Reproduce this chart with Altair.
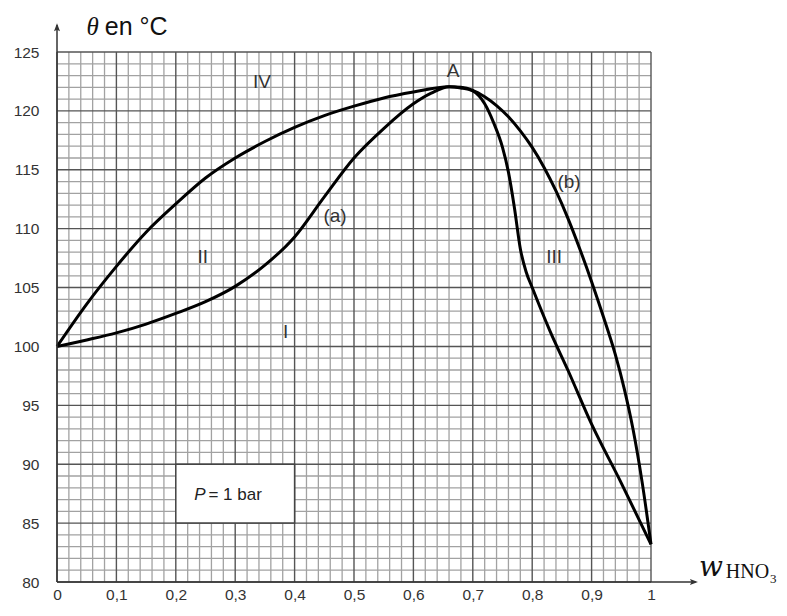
import altair as alt
import pandas as pd

# ---- data ----
# dew (vapour) curve: left branch, then branch (b)
dew_w = [0, 0.05, 0.1, 0.15, 0.2, 0.25, 0.3, 0.35, 0.4, 0.45, 0.5, 0.55, 0.6, 0.66,
         0.68, 0.70, 0.72, 0.74, 0.76, 0.78, 0.80, 0.82, 0.84, 0.86, 0.88, 0.90, 0.92,
         0.94, 0.955, 0.97, 0.985, 1.0]
dew_T = [100, 103.6, 106.8, 109.7, 112.1, 114.3, 116.0, 117.4, 118.6, 119.6, 120.4, 121.1, 121.6, 122.05,
         122.0, 121.75, 121.2, 120.45, 119.5, 118.3, 116.9, 115.2, 113.2, 110.9, 108.3, 105.5, 102.5,
         99.3, 96.4, 92.9, 88.5, 83.2]
# boiling (liquid) curve: branch (a), then the III side
liq_w = [0, 0.05, 0.1, 0.15, 0.2, 0.25, 0.3, 0.35, 0.4, 0.45, 0.5, 0.55, 0.6, 0.63, 0.66,
         0.68, 0.70, 0.72, 0.735, 0.75, 0.76, 0.77, 0.78, 0.79, 0.80, 0.83, 0.86, 0.90, 0.95, 1.0]
liq_T = [100, 100.55, 101.15, 101.9, 102.8, 103.8, 105.1, 106.9, 109.3, 112.7, 116.0, 118.5, 120.6, 121.5, 122.05,
         121.95, 121.7, 120.6, 119.0, 116.9, 114.8, 111.8, 108.3, 106.3, 105.0, 101.3, 98.0, 93.4, 88.4, 83.2]

x_ticks = [0, 0.1, 0.2, 0.3, 0.4, 0.5, 0.6, 0.7, 0.8, 0.9, 1.0]
y_ticks = [80, 85, 90, 95, 100, 105, 110, 115, 120, 125]

region_labels = ["IV", "A", "(a)", "(b)", "III", "II", "I"]
region_w = [0.345, 0.667, 0.468, 0.862, 0.837, 0.2455, 0.385]
region_T = [122.43, 123.4, 111.1, 114.0, 107.6, 107.6, 101.26]

# ---- frames ----
curves = pd.concat([
    pd.DataFrame({"w": dew_w, "T": dew_T, "curve": "dew"}),
    pd.DataFrame({"w": liq_w, "T": liq_T, "curve": "liquid"}),
])
minor_x = pd.DataFrame({"w": [round(0.02 * k, 2) for k in range(51) if k % 5]})
major_x = pd.DataFrame({"w": x_ticks})
minor_y = pd.DataFrame({"T": [t for t in range(80, 126) if t % 5]})
major_y = pd.DataFrame({"T": y_ticks})
labels = pd.DataFrame({"w": region_w, "T": region_T, "label": region_labels})

xs = alt.Scale(domain=[0, 1], nice=False, zero=False)
ys = alt.Scale(domain=[80, 125], nice=False, zero=False)
xax = alt.Axis(values=x_ticks, labelExpr="replace(format(datum.value, '.1~f'), '.', ',')",
               grid=False, ticks=False, domain=False, title=None, labelFontSize=15.5,
               labelFont="Liberation Sans", labelColor="#333", labelPadding=5, labelFlush=False)
yax = alt.Axis(values=y_ticks, grid=False, ticks=False, domain=False, title=None, labelFontSize=15.5,
               labelFont="Liberation Sans", labelColor="#333", labelPadding=18)


def X(f="w"):
    return alt.X(f"{f}:Q", scale=xs, axis=xax)


def Y(f="T"):
    return alt.Y(f"{f}:Q", scale=ys, axis=yax)


g_minor_x = alt.Chart(minor_x).mark_rule(color="#a2a2a2", strokeWidth=1.3).encode(x=X())
g_minor_y = alt.Chart(minor_y).mark_rule(color="#a2a2a2", strokeWidth=1.3).encode(y=Y())
g_major_x = alt.Chart(major_x).mark_rule(color="#555555", strokeWidth=1.4).encode(x=X())
g_major_y = alt.Chart(major_y).mark_rule(color="#555555", strokeWidth=1.4).encode(y=Y())

box = alt.Chart(pd.DataFrame({"w": [0.2], "w2": [0.4], "T": [85], "T2": [90]})).mark_rect(
    fill="white", stroke="#444", strokeWidth=1.5
).encode(x=X(), x2="w2:Q", y=Y(), y2="T2:Q")

p_txt = alt.Chart(pd.DataFrame({"w": [0.25], "T": [87.0], "t": ["P"]})).mark_text(
    font="Liberation Sans", fontSize=17, fontStyle="italic", align="right", baseline="alphabetic", color="#222"
).encode(x=X(), y=Y(), text="t:N")
bar_txt = alt.Chart(pd.DataFrame({"w": [0.255], "T": [87.0], "t": ["= 1 bar"]})).mark_text(
    font="Liberation Sans", fontSize=17, align="left", baseline="alphabetic", color="#222"
).encode(x=X(), y=Y(), text="t:N")

lines = alt.Chart(curves).mark_line(interpolate="monotone", color="black", strokeWidth=3).encode(
    x=X(), y=Y(), detail="curve:N", order="w:Q"
)

yaxis_line = alt.Chart(pd.DataFrame({"w": [0], "T": [80], "T2": [127.3]})).mark_rule(
    color="#333", strokeWidth=1.5).encode(x=X(), y=Y(), y2="T2:Q")
xaxis_line = alt.Chart(pd.DataFrame({"w": [0], "w2": [1.075], "T": [80]})).mark_rule(
    color="#333", strokeWidth=1.5).encode(x=X(), x2="w2:Q", y=Y())

arrow_up = alt.Chart(pd.DataFrame({"w": [0], "T": [127.44]})).mark_point(
    shape="M0,0 L-0.75,2 L0,1.6 L0.75,2 Z", size=64, filled=True, color="#333", opacity=1
).encode(x=X(), y=Y())
arrow_right = alt.Chart(pd.DataFrame({"w": [1.079], "T": [80]})).mark_point(
    shape="M0,0 L-2,-0.75 L-1.6,0 L-2,0.75 Z", size=64, filled=True, color="#333", opacity=1
).encode(x=X(), y=Y())

region_txt = alt.Chart(labels).mark_text(
    font="Liberation Sans", fontSize=19, color="#333", align="center", baseline="middle"
).encode(x=X(), y=Y(), text="label:N")

theta = alt.Chart(pd.DataFrame({"w": [0.0705], "T": [126.45], "t": ["θ"]})).mark_text(
    font="Liberation Serif", fontSize=25, fontStyle="italic", align="right", baseline="alphabetic", color="#111"
).encode(x=X(), y=Y(), text="t:N")
theta_unit = alt.Chart(pd.DataFrame({"w": [0.0805], "T": [126.45], "t": ["en °C"]})).mark_text(
    font="Liberation Sans", fontSize=25, align="left", baseline="alphabetic", color="#111"
).encode(x=X(), y=Y(), text="t:N")

w_txt = alt.Chart(pd.DataFrame({"w": [1.0806], "T": [80.5], "t": ["w"]})).mark_text(
    font="DejaVu Serif", fontSize=28, fontStyle="italic", fontWeight=300, align="left",
    baseline="alphabetic", color="#111"
).encode(x=X(), y=Y(), text="t:N")
hno_txt = alt.Chart(pd.DataFrame({"w": [1.126], "T": [80.35], "t": ["HNO"]})).mark_text(
    font="Liberation Serif", fontSize=20, align="left", baseline="alphabetic", color="#111"
).encode(x=X(), y=Y(), text="t:N")
three_txt = alt.Chart(pd.DataFrame({"w": [1.2005], "T": [79.95], "t": ["3"]})).mark_text(
    font="Liberation Serif", fontSize=13, align="left", baseline="alphabetic", color="#111"
).encode(x=X(), y=Y(), text="t:N")

chart = alt.layer(
    g_minor_x, g_minor_y, g_major_x, g_major_y, box, p_txt, bar_txt, lines,
    yaxis_line, xaxis_line, arrow_up, arrow_right, region_txt, theta, theta_unit,
    w_txt, hno_txt, three_txt
).properties(
    width=594, height=530,
    padding={"left": 49, "top": 44, "right": 128, "bottom": 22},
    autosize=alt.AutoSizeParams(type="none"),
).configure_view(stroke=None)

chart.save("out.html", embed_options={"renderer": "svg", "actions": False})
